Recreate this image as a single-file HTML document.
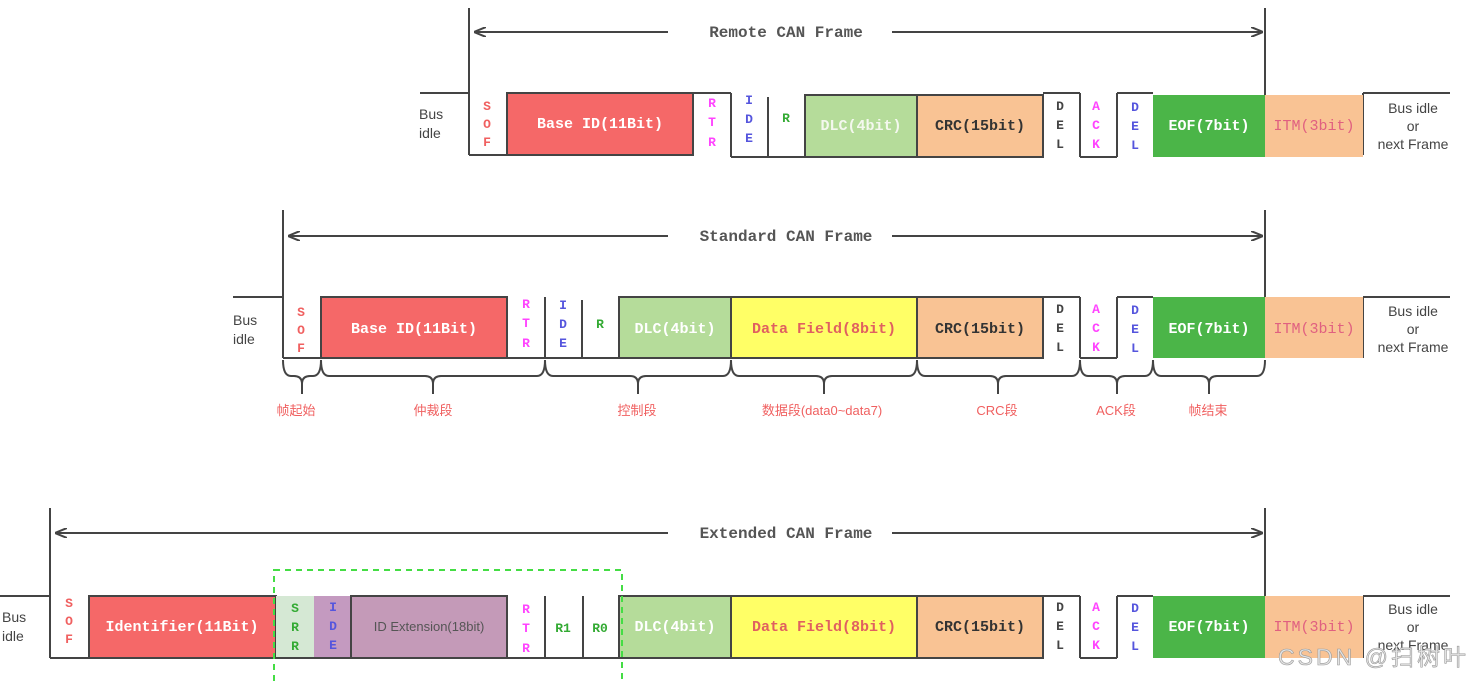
<!DOCTYPE html>
<html><head><meta charset="utf-8"><style>
html,body{margin:0;padding:0;background:#fff;width:1472px;height:681px;overflow:hidden}
svg text{font-family:"Liberation Sans","Noto Sans CJK SC",sans-serif}
svg .m text{font-family:"Liberation Mono",monospace;font-weight:bold;font-size:15px}
svg .l text{font-family:"Liberation Mono",monospace;font-weight:bold;font-size:13px}
svg .t text{font-family:"Liberation Mono",monospace;font-weight:bold;font-size:16px;fill:#555}
svg .b text{font-size:14px;fill:#444}
svg .c text{font-size:13px;fill:#f06060}
</style></head><body>
<svg width="1472" height="681" viewBox="0 0 1472 681" xmlns="http://www.w3.org/2000/svg">
<defs>
<marker id="a" markerWidth="12" markerHeight="10" refX="11" refY="5" orient="auto-start-reverse" markerUnits="userSpaceOnUse"><path d="M0,0 L12,5 L0,10" fill="none" stroke="#444" stroke-width="2"/></marker>
</defs>
<g stroke="#444" stroke-width="2" fill="none">
<line x1="420" y1="93" x2="469" y2="93"/>
<line x1="469" y1="8" x2="469" y2="155"/>
<line x1="1265" y1="8" x2="1265" y2="155"/>
<line x1="469" y1="155" x2="507" y2="155"/>
<line x1="693" y1="93" x2="731" y2="93"/>
<line x1="731" y1="93" x2="731" y2="157"/>
<line x1="731" y1="157" x2="805" y2="157"/>
<line x1="768" y1="97" x2="768" y2="157"/>
<line x1="1043" y1="93" x2="1080" y2="93"/>
<line x1="1080" y1="93" x2="1080" y2="157"/>
<line x1="1080" y1="157" x2="1117" y2="157"/>
<line x1="1117" y1="157" x2="1117" y2="93"/>
<line x1="1117" y1="93" x2="1153" y2="93"/>
<line x1="1363" y1="93" x2="1450" y2="93"/>
<line x1="1363" y1="93" x2="1363" y2="155"/>
<line x1="475" y1="32" x2="668" y2="32" marker-start="url(#a)"/>
<line x1="892" y1="32" x2="1262" y2="32" marker-end="url(#a)"/>
<line x1="233" y1="297" x2="283" y2="297"/>
<line x1="283" y1="210" x2="283" y2="358"/>
<line x1="1265" y1="210" x2="1265" y2="358"/>
<line x1="283" y1="358" x2="321" y2="358"/>
<line x1="507" y1="358" x2="619" y2="358"/>
<line x1="545" y1="297" x2="545" y2="358"/>
<line x1="582" y1="300" x2="582" y2="358"/>
<line x1="1043" y1="297" x2="1080" y2="297"/>
<line x1="1080" y1="297" x2="1080" y2="358"/>
<line x1="1080" y1="358" x2="1117" y2="358"/>
<line x1="1117" y1="358" x2="1117" y2="297"/>
<line x1="1117" y1="297" x2="1153" y2="297"/>
<line x1="1363" y1="297" x2="1450" y2="297"/>
<line x1="1363" y1="297" x2="1363" y2="358"/>
<line x1="289" y1="236" x2="668" y2="236" marker-start="url(#a)"/>
<line x1="892" y1="236" x2="1262" y2="236" marker-end="url(#a)"/>
<line x1="0" y1="596" x2="50" y2="596"/>
<line x1="50" y1="508" x2="50" y2="658"/>
<line x1="1265" y1="508" x2="1265" y2="658"/>
<line x1="50" y1="658" x2="89" y2="658"/>
<line x1="507" y1="658" x2="619" y2="658"/>
<line x1="545" y1="596" x2="545" y2="658"/>
<line x1="583" y1="596" x2="583" y2="658"/>
<line x1="1043" y1="596" x2="1080" y2="596"/>
<line x1="1080" y1="596" x2="1080" y2="658"/>
<line x1="1080" y1="658" x2="1117" y2="658"/>
<line x1="1117" y1="658" x2="1117" y2="596"/>
<line x1="1117" y1="596" x2="1153" y2="596"/>
<line x1="1363" y1="596" x2="1450" y2="596"/>
<line x1="1363" y1="596" x2="1363" y2="658"/>
<line x1="56" y1="533" x2="668" y2="533" marker-start="url(#a)"/>
<line x1="892" y1="533" x2="1262" y2="533" marker-end="url(#a)"/>
</g>
<g stroke="#444" stroke-width="2">
<rect x="507" y="93" width="186" height="62" fill="#f56868"/>
<rect x="805" y="95" width="112" height="62" fill="#b5dc9a"/>
<rect x="917" y="95" width="126" height="62" fill="#f9c394"/>
<rect x="1153" y="95" width="112" height="62" fill="#4bb548" stroke="none"/>
<rect x="1265" y="95" width="98" height="62" fill="#f9c394" stroke="none"/>
<rect x="321" y="297" width="186" height="61" fill="#f56868"/>
<rect x="619" y="297" width="112" height="61" fill="#b5dc9a"/>
<rect x="731" y="297" width="186" height="61" fill="#ffff66"/>
<rect x="917" y="297" width="126" height="61" fill="#f9c394"/>
<rect x="1153" y="297" width="112" height="61" fill="#4bb548" stroke="none"/>
<rect x="1265" y="297" width="98" height="61" fill="#f9c394" stroke="none"/>
<rect x="89" y="596" width="187" height="62" fill="#f56868"/>
<rect x="276" y="596" width="38" height="62" fill="#d5e8d4" stroke="none"/>
<rect x="314" y="596" width="37" height="62" fill="#c49ac0" stroke="none"/>
<rect x="351" y="596" width="156" height="62" fill="#c49ab8"/>
<rect x="619" y="596" width="112" height="62" fill="#b5dc9a"/>
<rect x="731" y="596" width="186" height="62" fill="#ffff66"/>
<rect x="917" y="596" width="126" height="62" fill="#f9c394"/>
<rect x="1153" y="596" width="112" height="62" fill="#4bb548" stroke="none"/>
<rect x="1265" y="596" width="98" height="62" fill="#f9c394" stroke="none"/>
</g>
<line x1="276" y1="658" x2="351" y2="658" stroke="#444" stroke-width="2"/>
<rect x="274" y="570" width="348" height="120" fill="none" stroke="#44dd44" stroke-width="2" stroke-dasharray="6,5"/>
<g stroke="#444" stroke-width="2" fill="none">
<path d="M283,360 q0,16 8,16 L294,376 q8,0 8,8 v10 M321,360 q0,16 -8,16 L310,376 q-8,0 -8,8"/>
<path d="M321,360 q0,16 8,16 L425,376 q8,0 8,8 v10 M545,360 q0,16 -8,16 L441,376 q-8,0 -8,8"/>
<path d="M545,360 q0,16 8,16 L630,376 q8,0 8,8 v10 M731,360 q0,16 -8,16 L646,376 q-8,0 -8,8"/>
<path d="M731,360 q0,16 8,16 L816,376 q8,0 8,8 v10 M917,360 q0,16 -8,16 L832,376 q-8,0 -8,8"/>
<path d="M917,360 q0,16 8,16 L990,376 q8,0 8,8 v10 M1080,360 q0,16 -8,16 L1006,376 q-8,0 -8,8"/>
<path d="M1080,360 q0,16 8,16 L1109,376 q8,0 8,8 v10 M1153,360 q0,16 -8,16 L1125,376 q-8,0 -8,8"/>
<path d="M1153,360 q0,16 8,16 L1201,376 q8,0 8,8 v10 M1265,360 q0,16 -8,16 L1217,376 q-8,0 -8,8"/>
</g>
<g class="c" text-anchor="middle">
<text x="296" y="415">帧起始</text><text x="433" y="415">仲裁段</text><text x="637" y="415">控制段</text>
<text x="822" y="415">数据段(data0~data7)</text><text x="997" y="415">CRC段</text><text x="1116" y="415">ACK段</text><text x="1208" y="415">帧结束</text>
</g>
<g class="t" text-anchor="middle">
<text x="786" y="37">Remote CAN Frame</text>
<text x="786" y="241">Standard CAN Frame</text>
<text x="786" y="538">Extended CAN Frame</text>
</g>
<g class="m" text-anchor="middle" fill="#fff">
<text x="600" y="128" fill="#fff">Base ID(11Bit)</text>
<text x="861" y="130" fill="#f4f8ee">DLC(4bit)</text>
<text x="980" y="130" fill="#333">CRC(15bit)</text>
<text x="1209" y="130" fill="#fff">EOF(7bit)</text>
<text x="1314" y="130" fill="#e06080" style="font-weight:normal">ITM(3bit)</text>
<text x="414" y="333" fill="#fff">Base ID(11Bit)</text>
<text x="675" y="333" fill="#fff">DLC(4bit)</text>
<text x="824" y="333" fill="#e06060">Data Field(8bit)</text>
<text x="980" y="333" fill="#333">CRC(15bit)</text>
<text x="1209" y="333" fill="#fff">EOF(7bit)</text>
<text x="1314" y="333" fill="#e06080" style="font-weight:normal">ITM(3bit)</text>
<text x="182" y="631" fill="#fff">Identifier(11Bit)</text>
<text x="675" y="631" fill="#fff">DLC(4bit)</text>
<text x="824" y="631" fill="#e06060">Data Field(8bit)</text>
<text x="980" y="631" fill="#333">CRC(15bit)</text>
<text x="1209" y="631" fill="#fff">EOF(7bit)</text>
<text x="1314" y="631" fill="#e06080" style="font-weight:normal">ITM(3bit)</text>
</g>
<text x="429" y="631" text-anchor="middle" style="font-size:13px;fill:#555">ID Extension(18bit)</text>
<g class="l" text-anchor="middle">
<g fill="#f06060"><text x="487" y="110">S</text><text x="487" y="128">O</text><text x="487" y="146">F</text>
<text x="301" y="316">S</text><text x="301" y="334">O</text><text x="301" y="352">F</text>
<text x="69" y="607">S</text><text x="69" y="625">O</text><text x="69" y="643">F</text></g>
<g fill="#ff44ff"><text x="712" y="107">R</text><text x="712" y="126">T</text><text x="712" y="146">R</text>
<text x="526" y="308">R</text><text x="526" y="327">T</text><text x="526" y="347">R</text>
<text x="526" y="613">R</text><text x="526" y="632">T</text><text x="526" y="652">R</text>
<text x="1096" y="110">A</text><text x="1096" y="129">C</text><text x="1096" y="148">K</text>
<text x="1096" y="313">A</text><text x="1096" y="332">C</text><text x="1096" y="351">K</text>
<text x="1096" y="611">A</text><text x="1096" y="630">C</text><text x="1096" y="649">K</text></g>
<g fill="#5555dd"><text x="749" y="104">I</text><text x="749" y="123">D</text><text x="749" y="142">E</text>
<text x="563" y="309">I</text><text x="563" y="328">D</text><text x="563" y="347">E</text>
<text x="333" y="611">I</text><text x="333" y="630">D</text><text x="333" y="649">E</text>
<text x="1135" y="111">D</text><text x="1135" y="130">E</text><text x="1135" y="149">L</text>
<text x="1135" y="314">D</text><text x="1135" y="333">E</text><text x="1135" y="352">L</text>
<text x="1135" y="612">D</text><text x="1135" y="631">E</text><text x="1135" y="650">L</text></g>
<g fill="#33aa33"><text x="786" y="122">R</text><text x="600" y="328">R</text>
<text x="295" y="612">S</text><text x="295" y="631">R</text><text x="295" y="650">R</text>
<text x="563" y="632">R1</text><text x="600" y="632">R0</text></g>
<g fill="#444"><text x="1060" y="110">D</text><text x="1060" y="129">E</text><text x="1060" y="148">L</text>
<text x="1060" y="313">D</text><text x="1060" y="332">E</text><text x="1060" y="351">L</text>
<text x="1060" y="611">D</text><text x="1060" y="630">E</text><text x="1060" y="649">L</text></g>
</g>
<g class="b">
<text x="419" y="119">Bus</text><text x="419" y="138">idle</text>
<text x="233" y="325">Bus</text><text x="233" y="344">idle</text>
<text x="2" y="622">Bus</text><text x="2" y="641">idle</text>
</g>
<g class="b" text-anchor="middle">
<text x="1413" y="113">Bus idle</text><text x="1413" y="131">or</text><text x="1413" y="149">next Frame</text>
<text x="1413" y="316">Bus idle</text><text x="1413" y="334">or</text><text x="1413" y="352">next Frame</text>
<text x="1413" y="614">Bus idle</text><text x="1413" y="632">or</text><text x="1413" y="650">next Frame</text>
</g>
<text x="1278" y="665" textLength="188" style="font-size:23px;fill:#e4e4e4;stroke:#999;stroke-width:0.6">CSDN @扫树叶</text>
</svg>
</body></html>
